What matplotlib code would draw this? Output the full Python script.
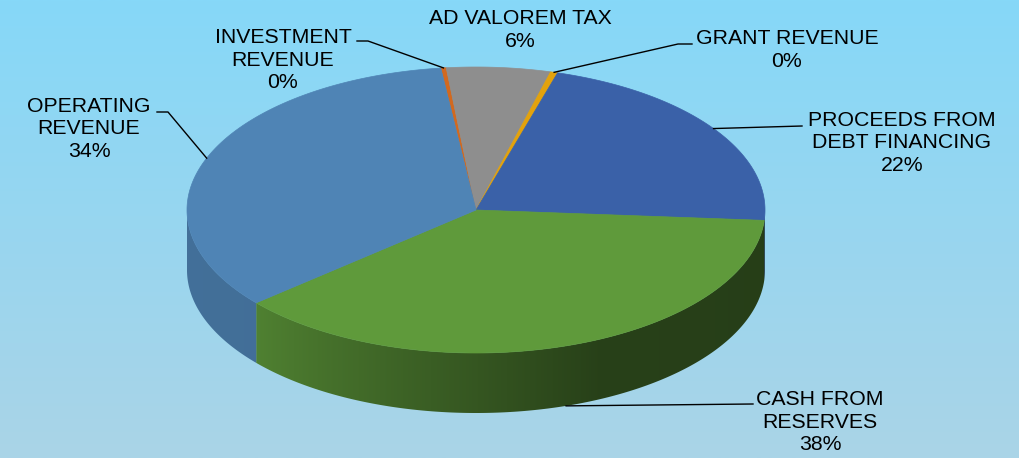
import numpy as np
import matplotlib
matplotlib.use('Agg')
import matplotlib.pyplot as plt
from matplotlib.colors import to_rgb, LinearSegmentedColormap
from matplotlib.patches import Polygon

# ── DATA ────────────────────────────────────────────────────────
labels = ['INVESTMENT\nREVENUE', 'AD VALOREM TAX', 'GRANT REVENUE',
          'PROCEEDS FROM\nDEBT FINANCING', 'CASH FROM\nRESERVES',
          'OPERATING\nREVENUE']
shares = [0.3, 5.8, 0.4, 21.6, 37.6, 34.3]
colors = ['#d2691f', '#8e8e8e', '#e3a20c', '#3a61a8', '#5f9a3b', '#4f84b5']

# ── LAYOUT (pixels) ─────────────────────────────────────────────
CX, CY, RX, RY, DEPTH = 476, 210, 289, 143, 60
START = 97
label_pos = [(283, 60), (520, 30), (787, 50), (902, 143), (820, 422), (89, 129)]
elbows = [[(357, 41), (368, 41)], None, [(692, 44), (678, 44)],
          [(802, 126)], [(753, 404)], [(157, 112), (168, 112)]]
FONT = 'Liberation Sans'


def ell(t, dz=0.0):
    r = np.radians(t)
    return CX + RX * np.cos(r), CY - RY * np.sin(r) + dz


def shade(t):
    return np.interp(t % 360, [180, 220, 295, 360], [0.85, 0.84, 0.42, 0.40])


fig = plt.figure(figsize=(10.2, 4.58), dpi=100)
ax = fig.add_axes([0, 0, 1, 1])
ax.set_xlim(0, 1020)
ax.set_ylim(458, 0)
ax.axis('off')

# background gradient
bg = LinearSegmentedColormap.from_list('bg', ['#86d8f8', '#aad4e7'])
grad = np.linspace(0, 1, 256).reshape(-1, 1)
ax.imshow(grad, cmap=bg, extent=[0, 1020, 458, 0], aspect='auto', zorder=0)

total = sum(shares)
cum = np.concatenate([[0], np.cumsum(shares)])
t1s = START - cum[:-1] / total * 360
t2s = START - cum[1:] / total * 360

# side walls (front half only), shaded by angle
for t1, t2, c in zip(t1s, t2s, colors):
    a0, a1 = t2, t1
    while a0 < 0:
        a0 += 360
        a1 += 360
    a0, a1 = max(a0, 180), min(a1, 360)
    if a1 <= a0:
        continue
    ts = np.linspace(a0, a1, 200)
    xt, yt = ell(ts)
    xb, yb = ell(ts[::-1], DEPTH)
    poly = Polygon(list(zip(xt, yt)) + list(zip(xb, yb)), closed=True,
                   facecolor='none', edgecolor='none')
    ax.add_patch(poly)
    xs = np.linspace(xt.min(), xt.max(), 400)
    tcol = 360 - np.degrees(np.arccos(np.clip((xs - CX) / RX, -1, 1)))
    base = np.array(to_rgb(c))
    img = np.clip(base[None, :] * shade(tcol)[:, None], 0, 1)[None, :, :]
    im = ax.imshow(img, extent=[xt.min(), xt.max(), yb.max(), yt.min()],
                   aspect='auto', zorder=2, interpolation='bilinear')
    im.set_clip_path(poly)

# top faces
for t1, t2, c in zip(t1s, t2s, colors):
    ts = np.linspace(t1, t2, max(int(abs(t1 - t2) * 2), 3))
    xs, ys = ell(ts)
    pts = [(CX, CY)] + list(zip(xs, ys))
    ax.add_patch(Polygon(pts, closed=True, facecolor=c, edgecolor=c, lw=0.5, zorder=3))

# labels and leader lines
for i, (lab, s) in enumerate(zip(labels, shares)):
    pct = f'{round(s / total * 100):.0f}%'
    x, y = label_pos[i]
    ax.text(x, y, f'{lab}\n{pct}', ha='center', va='center', multialignment='center',
            fontsize=15.3, family=FONT, color='#000000', zorder=5, linespacing=1.24)
    if elbows[i] is None:
        continue
    mid = (t1s[i] + t2s[i]) / 2
    ax_, ay_ = ell(mid)
    if np.sin(np.radians(mid)) < -0.9:
        ay_ += DEPTH
    path = elbows[i] + [(ax_, ay_)]
    px, py = zip(*path)
    ax.plot(px, py, color='#000000', lw=1, zorder=4)

fig.savefig('out.png', dpi=100)
plt.close(fig)
